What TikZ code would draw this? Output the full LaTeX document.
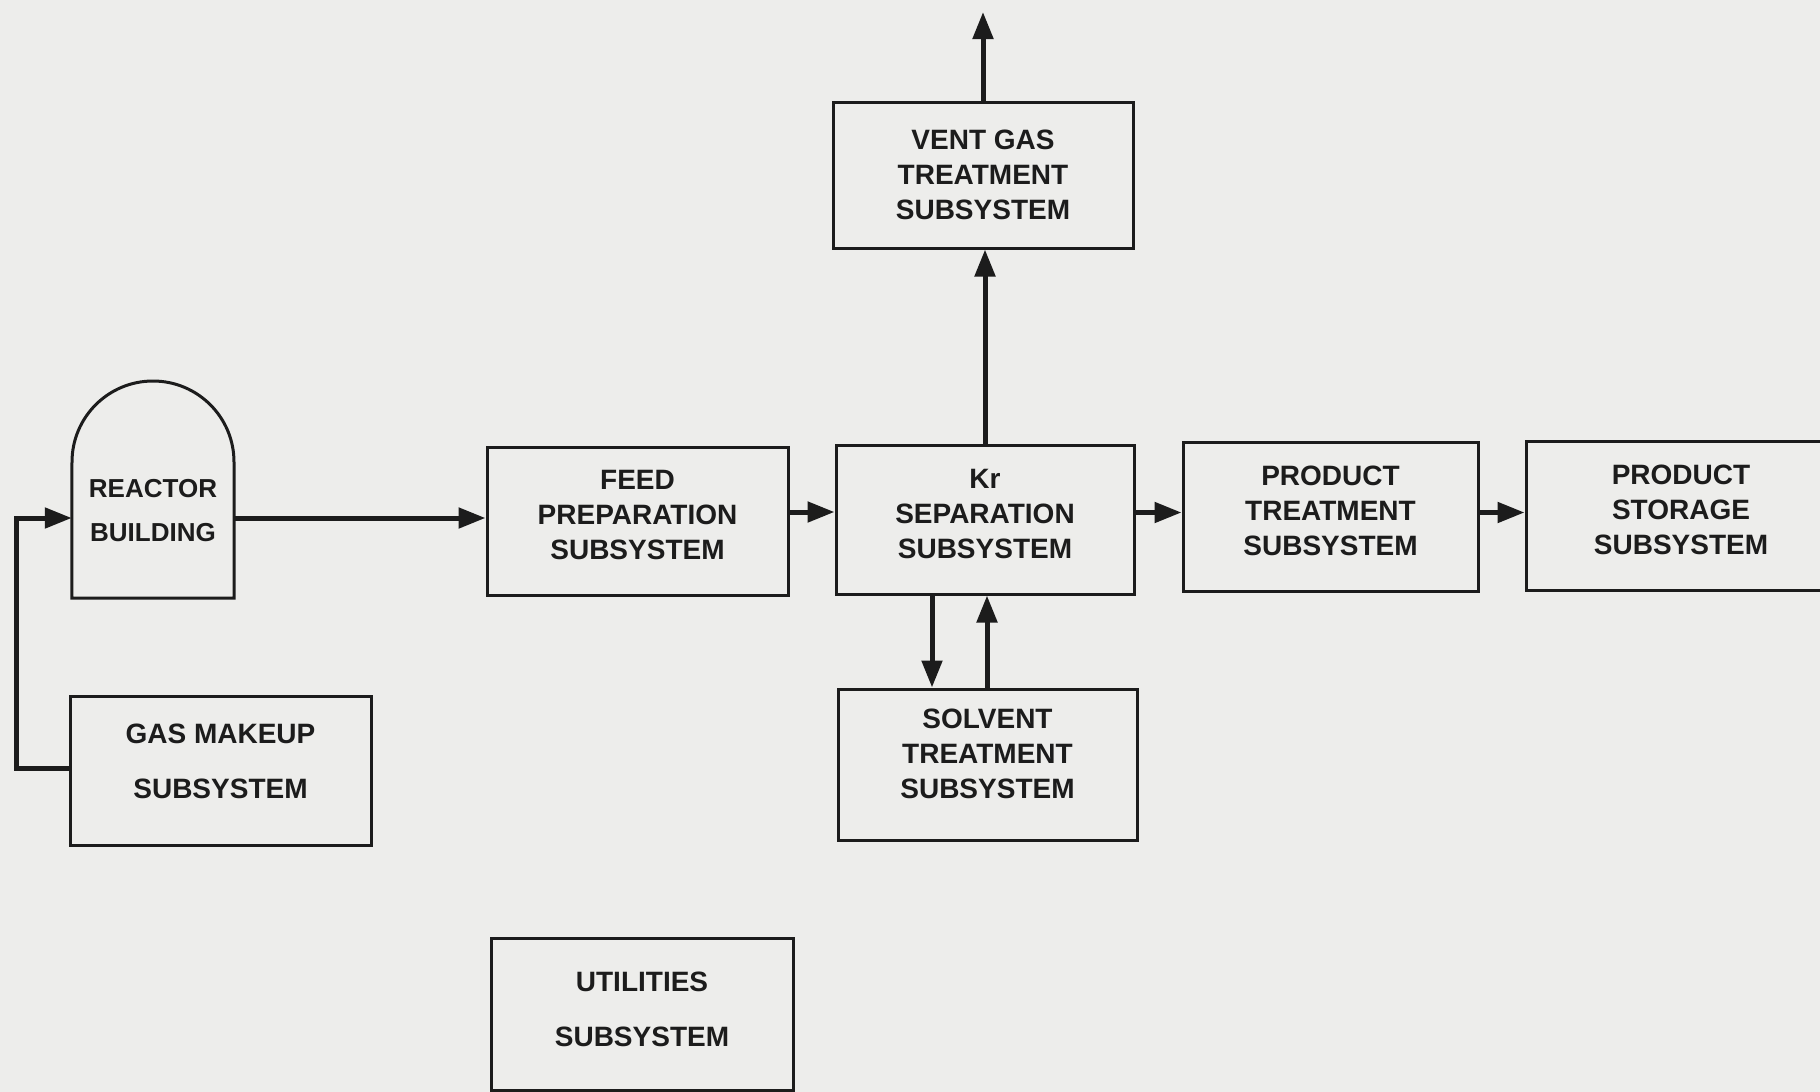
\documentclass[tikz,border=0pt]{standalone}
\usepackage{fontspec}
\setmainfont{Liberation Sans}
\usetikzlibrary{arrows.meta}
\definecolor{paper}{HTML}{EDEDEB}
\definecolor{ink}{HTML}{1C1C1C}
\begin{document}
\begin{tikzpicture}[x=1pt,y=-1pt,
  box/.style={draw=ink, line width=3pt, align=center, text=ink, inner sep=0pt,
              font=\fontsize{28}{35}\selectfont\bfseries, text depth=12pt},
  wide/.style={font=\fontsize{28}{55}\selectfont\bfseries},
  arr/.style={draw=ink, line width=5pt, -{Triangle[length=27pt,width=20pt]}}]
\clip (0,0) rectangle (1820,1092);
\fill[paper] (0,0) rectangle (1820,1092);

\node[box, minimum width=301pt, minimum height=148pt] (feed) at (637.5,521) {FEED\\PREPARATION\\SUBSYSTEM};
\node[box, minimum width=298pt, minimum height=149pt] (kr) at (985,519.5) {Kr\\SEPARATION\\SUBSYSTEM};
\node[box, text depth=1pt, minimum width=300pt, minimum height=146pt] (vent) at (983,175) {VENT GAS\\TREATMENT\\SUBSYSTEM};
\node[box, minimum width=295pt, minimum height=149pt] (pt) at (1330.5,516.5) {PRODUCT\\TREATMENT\\SUBSYSTEM};
\node[box, minimum width=310pt, minimum height=149pt] (ps) at (1681,515.5) {PRODUCT\\STORAGE\\SUBSYSTEM};
\node[box, text depth=21pt, minimum width=299pt, minimum height=151pt] (solv) at (987.5,764.5) {SOLVENT\\TREATMENT\\SUBSYSTEM};
\node[box, wide, text depth=19pt, minimum width=301pt, minimum height=149pt] (gas) at (220.5,770.5) {GAS MAKEUP\\SUBSYSTEM};
\node[box, wide, text depth=10pt, minimum width=302pt, minimum height=152pt] (util) at (642,1014) {UTILITIES\\SUBSYSTEM};

\node[align=center, text=ink, inner sep=0pt, font=\fontsize{26}{44}\selectfont\bfseries,
      minimum width=162pt, minimum height=174pt] (reactor) at (153,511) {REACTOR\\BUILDING};
\draw[ink, line width=3pt] (reactor.south west) -- (72,462)
  arc[start angle=180, end angle=0, radius=81pt] -- (reactor.south east) -- cycle;

\coordinate (loop) at (16,768);
\coordinate (rin) at ([yshift=-7pt]reactor.west);
\draw[arr] (gas.west |- loop) -- (loop) |- (rin);

\coordinate (r1) at ([yshift=-7pt]reactor.east);
\draw[arr] (r1) -- (r1 -| feed.west);

\coordinate (f1) at ([yshift=9pt]feed.east);
\draw[arr] (f1) -- (f1 -| kr.west);

\coordinate (k1) at ([yshift=7pt]kr.east);
\draw[arr] (k1) -- (k1 -| pt.west);

\coordinate (p1) at ([yshift=4pt]pt.east);
\draw[arr] (p1) -- (p1 -| ps.west);

\draw[arr] (kr.north) -- (kr.north |- vent.south);
\coordinate (top) at (983,12);
\draw[arr] (vent.north) -- (top);

\coordinate (dx) at (932,650);
\coordinate (ux) at (987,650);
\draw[arr] (dx |- kr.south) -- (dx |- solv.north);
\draw[arr] (ux |- solv.north) -- (ux |- kr.south);
\end{tikzpicture}
\end{document}
